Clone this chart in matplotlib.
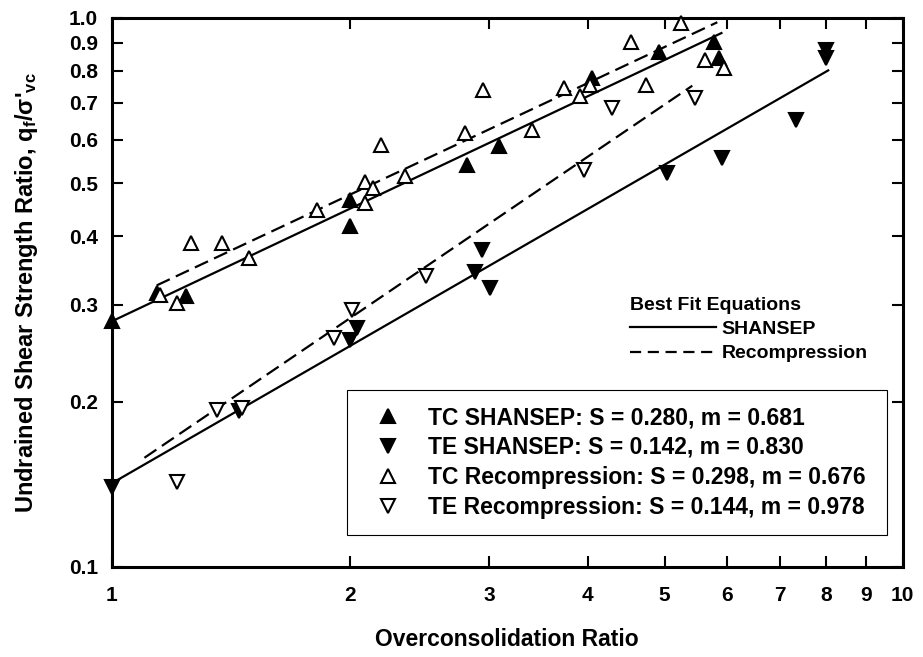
import matplotlib
matplotlib.use("Agg")
import matplotlib.pyplot as plt
from matplotlib.lines import Line2D
from matplotlib.ticker import FixedLocator, NullLocator

plt.rcParams['font.family'] = ['Liberation Sans', 'DejaVu Sans']
plt.rcParams['font.weight'] = 'bold'
plt.rcParams['axes.labelweight'] = 'bold'
plt.rcParams['mathtext.fontset'] = 'custom'
plt.rcParams['mathtext.rm'] = 'Liberation Sans:bold'
plt.rcParams['mathtext.it'] = 'Liberation Sans:bold'

tc_shansep_ocr = [1.0, 1.14, 1.24, 2.0, 2.0, 2.81, 3.09, 4.05, 4.92, 5.77, 5.85]
tc_shansep_su = [0.280, 0.315, 0.311, 0.466, 0.417, 0.540, 0.583, 0.777, 0.868, 0.905, 0.845]

te_shansep_ocr = [1.0, 1.45, 2.0, 2.04, 2.88, 2.94, 3.01, 5.04, 5.91, 7.32, 7.99, 7.99]
te_shansep_su = [0.140, 0.192, 0.259, 0.272, 0.345, 0.378, 0.322, 0.521, 0.555, 0.652, 0.874, 0.845]

tc_recomp_ocr = [1.15, 1.21, 1.26, 1.38, 1.49, 1.82, 2.09, 2.09, 2.14, 2.19, 2.35,
                 2.80, 2.95, 3.40, 3.73, 3.91, 4.03, 4.53, 4.73, 5.24, 5.63, 5.94]
tc_recomp_su = [0.313, 0.302, 0.389, 0.389, 0.365, 0.447, 0.503, 0.460, 0.490, 0.587, 0.514,
                0.617, 0.739, 0.625, 0.745, 0.719, 0.755, 0.905, 0.755, 0.978, 0.839, 0.809]

te_recomp_ocr = [1.21, 1.36, 1.46, 1.91, 2.01, 2.50, 3.95, 4.29, 5.47]
te_recomp_su = [0.143, 0.193, 0.195, 0.261, 0.294, 0.338, 0.529, 0.685, 0.714]

# best fit equations su = S * OCR^m
fit_names = ['TC SHANSEP', 'TE SHANSEP', 'TC Recompression', 'TE Recompression']
fit_S = [0.280, 0.142, 0.298, 0.144]
fit_m = [0.681, 0.830, 0.676, 0.978]
fit_x_start = [1.0, 1.0, 1.14, 1.10]
fit_x_end = [5.9, 8.05, 5.83, 5.42]
fit_styles = ['-', '-', '--', '--']

x_ticks = [1, 2, 3, 4, 5, 6, 7, 8, 9, 10]
y_ticks = [0.1, 0.2, 0.3, 0.4, 0.5, 0.6, 0.7, 0.8, 0.9, 1.0]

fig = plt.figure(figsize=(9.23, 6.57), dpi=100)
ax = fig.add_axes([0.121, 0.137, 0.857, 0.836])
ax.set_xscale('log')
ax.set_yscale('log')
ax.set_xlim(1, 10)
ax.set_ylim(0.1, 1.0)

# fit lines
for S, m, x0, x1, ls in zip(fit_S, fit_m, fit_x_start, fit_x_end, fit_styles):
    xs = [x0, x1]
    ax.plot(xs, [S * x ** m for x in xs], color='black', lw=1.6, ls=ls,
            dashes=(6.5, 3) if ls == '--' else (None, None), zorder=2)

mk = dict(ls='none', ms=10, mec='black', mew=1.5, clip_on=False, zorder=3)
h1, = ax.plot(tc_shansep_ocr, tc_shansep_su, marker='^', mfc='black', **mk)
h2, = ax.plot(te_shansep_ocr, te_shansep_su, marker='v', mfc='black', **mk)
h3, = ax.plot(tc_recomp_ocr, tc_recomp_su, marker='^', mfc='white', **mk)
h4, = ax.plot(te_recomp_ocr, te_recomp_su, marker='v', mfc='white', **mk)

labels = [f'{n}: S = {S:.3f}, m = {m:.3f}' for n, S, m in zip(fit_names, fit_S, fit_m)]
leg = ax.legend([h1, h2, h3, h4], labels, loc='lower left', mode='expand',
                bbox_to_anchor=(0.298, 0.058, 0.682, 0.266), borderaxespad=0,
                fontsize=16.5, fancybox=False, edgecolor='black', framealpha=1,
                handlelength=2.1, handletextpad=0.7, borderpad=0.72, labelspacing=0.3)
leg.get_frame().set_linewidth(0.8)
ax.add_artist(leg)

fit_leg = ax.legend([Line2D([], [], color='black', lw=1.6),
                     Line2D([], [], color='black', lw=1.6, ls='--', dashes=(5, 3))],
                    ['SHANSEP', 'Recompression'], title='Best Fit Equations',
                    loc='upper left', bbox_to_anchor=(0.643, 0.51), frameon=False,
                    fontsize=14, title_fontproperties={'size': 14, 'weight': 'bold'},
                    handlelength=4.4, handletextpad=0.3, labelspacing=0.35,
                    borderpad=0, alignment='left')

ax.xaxis.set_major_locator(FixedLocator(x_ticks))
ax.xaxis.set_minor_locator(NullLocator())
ax.set_xticklabels([str(t) for t in x_ticks])
ax.yaxis.set_major_locator(FixedLocator(y_ticks))
ax.yaxis.set_minor_locator(NullLocator())
ax.set_yticklabels([f'{t:.1f}' for t in y_ticks])
ax.tick_params(which='major', direction='in', length=8, width=1.5, labelsize=15,
               top=True, right=True, pad=10)
ax.tick_params(axis='x', pad=14)

for sp in ax.spines.values():
    sp.set_linewidth(2.2)

ax.set_xlabel('Overconsolidation Ratio', fontsize=16.5, labelpad=16)
ax.set_ylabel("Undrained Shear Strength Ratio, q$_\\mathregular{f}$/σ'$_\\mathregular{vc}$",
              fontsize=17, labelpad=21)

fig.savefig('out.png', dpi=100)
